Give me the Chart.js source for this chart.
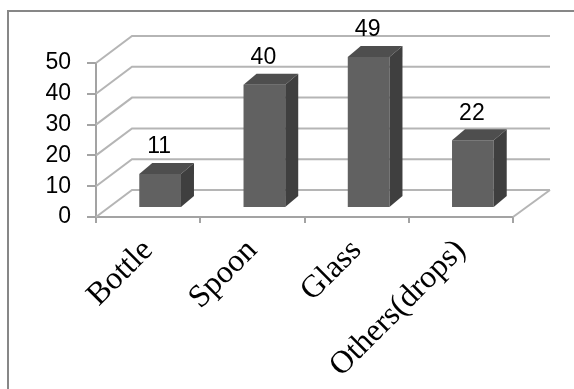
<!DOCTYPE html>
<html>
<head>
<meta charset="utf-8">
<script src="https://cdn.jsdelivr.net/npm/chart.js@4.4.0/dist/chart.umd.min.js"></script>
<style>
  html, body { margin: 0; padding: 0; background: #fff; }
  #wrap { width: 574px; height: 389px; }
</style>
</head>
<body>
<div id="wrap"><canvas id="bars" width="574" height="389"></canvas></div>
<script>
// Data
const categories = ['Bottle', 'Spoon', 'Glass', 'Others(drops)'];
const counts = [11, 40, 49, 22];
const yTicks = [0, 10, 20, 30, 40, 50];

// fake 3d: wall depth and how far the boxes sit behind the front plane
const WALL_DX = 36, WALL_DY = -27;
const BAR_DX = 12, BAR_DY = -9;
const BOX_DX = 13, BOX_DY = -11;

const gridGray = '#b5b5b5';
const axisGray = '#a3a3a3';

const room3d = {
  id: 'room3d',
  beforeDraw(chart) {
    const ctx = chart.ctx;
    ctx.save();
    ctx.fillStyle = '#fff';
    ctx.fillRect(0, 0, chart.width, chart.height);
    // outer frame (only top/left edges fall inside the canvas)
    ctx.strokeStyle = '#878787';
    ctx.lineWidth = 2;
    ctx.beginPath();
    ctx.moveTo(8, chart.height);
    ctx.lineTo(8, 11);
    ctx.lineTo(chart.width, 11);
    ctx.stroke();
    ctx.restore();
  },
  beforeDatasetsDraw(chart) {
    const ctx = chart.ctx;
    const area = chart.chartArea;
    const y = chart.scales.y;
    ctx.save();
    ctx.strokeStyle = gridGray;
    ctx.lineWidth = 2;
    yTicks.forEach(v => {
      const py = y.getPixelForValue(v);
      ctx.beginPath();
      ctx.moveTo(area.left, py);
      ctx.lineTo(area.left + WALL_DX, py + WALL_DY);
      ctx.lineTo(area.right + WALL_DX + 1, py + WALL_DY);
      ctx.stroke();
    });
    // floor right edge
    ctx.beginPath();
    ctx.moveTo(area.right, area.bottom);
    ctx.lineTo(area.right + WALL_DX + 1, area.bottom + WALL_DY);
    ctx.stroke();
    ctx.restore();

    // push the bars back into the room
    ctx.save();
    ctx.translate(BAR_DX, BAR_DY);
  },
  afterDatasetsDraw(chart) {
    const ctx = chart.ctx;
    const meta = chart.getDatasetMeta(0);
    meta.data.forEach((bar, i) => {
      const x0 = bar.x - bar.width / 2;
      const x1 = bar.x + bar.width / 2;
      const top = bar.y, base = bar.base;
      // top face
      ctx.fillStyle = '#4e4e4e';
      ctx.beginPath();
      ctx.moveTo(x0, top);
      ctx.lineTo(x1, top);
      ctx.lineTo(x1 + BOX_DX, top + BOX_DY);
      ctx.lineTo(x0 + BOX_DX, top + BOX_DY);
      ctx.closePath();
      ctx.fill();
      // right side face
      ctx.fillStyle = '#3f3f3f';
      ctx.beginPath();
      ctx.moveTo(x1, top);
      ctx.lineTo(x1 + BOX_DX, top + BOX_DY);
      ctx.lineTo(x1 + BOX_DX, base + BOX_DY);
      ctx.lineTo(x1, base);
      ctx.closePath();
      ctx.fill();
      // value label
      ctx.fillStyle = '#000';
      ctx.font = '23px "Liberation Sans", Arial, sans-serif';
      ctx.textAlign = 'center';
      ctx.textBaseline = 'middle';
      ctx.fillText(String(counts[i]), bar.x - 1, top + BOX_DY - 16);
    });
    ctx.restore();
  }
};

new Chart(document.getElementById('bars'), {
  type: 'bar',
  data: {
    labels: categories,
    datasets: [{
      data: counts,
      backgroundColor: '#616161',
      borderWidth: 0,
      barPercentage: 0.4,
      categoryPercentage: 1,
      clip: false
    }]
  },
  options: {
    responsive: false,
    devicePixelRatio: 1,
    animation: false,
    layout: { padding: { left: 0, top: 63, right: 61, bottom: 0 } },
    plugins: {
      legend: { display: false },
      tooltip: { enabled: false }
    },
    scales: {
      x: {
        offset: true,
        grid: { offset: true, drawOnChartArea: false, tickLength: 6, color: axisGray, lineWidth: 2 },
        border: { display: true, color: axisGray, width: 2 },
        ticks: {
          autoSkip: false,
          minRotation: 45,
          maxRotation: 45,
          padding: 9,
          color: '#000',
          font: { family: '"Liberation Serif", "Times New Roman", serif', size: 32 }
        },
        afterFit(scale) { scale.height = 172; }
      },
      y: {
        min: 0,
        max: 50,
        afterBuildTicks(scale) { scale.ticks = yTicks.map(v => ({ value: v })); },
        grid: { drawOnChartArea: false, tickLength: 9, color: axisGray, lineWidth: 2 },
        border: { display: true, color: axisGray, width: 2 },
        ticks: {
          padding: 16,
          color: '#000',
          font: { family: '"Liberation Sans", Arial, sans-serif', size: 23 }
        },
        afterFit(scale) { scale.width = 96; }
      }
    }
  },
  plugins: [room3d]
});
</script>
</body>
</html>
